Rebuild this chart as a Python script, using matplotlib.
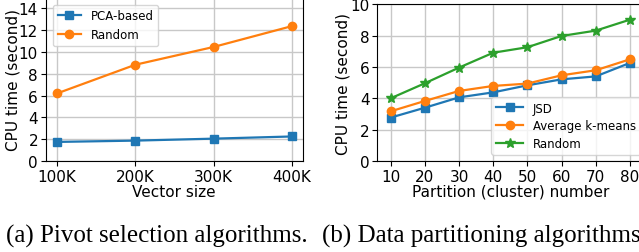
import matplotlib
matplotlib.use('Agg')
import matplotlib.pyplot as plt

# (a) pivot selection
vec_size = [100, 200, 300, 400]
vec_labels = ['100K', '200K', '300K', '400K']
pca_based = [1.75, 1.87, 2.05, 2.25]
random_a = [6.2, 8.83, 10.46, 12.37]

# (b) data partitioning
partitions = [10, 20, 30, 40, 50, 60, 70, 80]
jsd = [2.77, 3.4, 4.06, 4.38, 4.83, 5.21, 5.4, 6.26]
avg_kmeans = [3.17, 3.83, 4.47, 4.79, 4.94, 5.47, 5.79, 6.49]
random_b = [4.0, 4.96, 5.96, 6.91, 7.26, 7.98, 8.32, 9.02]

W, H = 639, 253
fig = plt.figure(figsize=(W / 100, H / 100), dpi=100)


def box(x0, y0, x1, y1):
    return [x0 / W, 1 - y1 / H, (x1 - x0) / W, (y1 - y0) / H]


tick_fs = 11
legend_fs = 8.5
lw = 1.6
ms = 6

ax1 = fig.add_axes(box(45.7, -1.5, 302.7, 162))
ax1.plot(vec_size, pca_based, marker='s', color='#1f77b4', lw=lw, ms=ms, label='PCA-based')
ax1.plot(vec_size, random_a, marker='o', color='#ff7f0e', lw=lw, ms=ms, label='Random')
ax1.set_xlim(85.5, 414)
ax1.set_ylim(0, 15)
ax1.set_xticks(vec_size)
ax1.set_xticklabels(vec_labels)
ax1.set_yticks(range(0, 15, 2))
ax1.set_xlabel('Vector size', fontsize=tick_fs, labelpad=0)
ax1.set_ylabel('CPU time (second)', fontsize=tick_fs, labelpad=-1)
ax1.tick_params(labelsize=tick_fs, pad=2)
ax1.grid(True, color='#c8c8c8', lw=1)
ax1.legend(loc='upper left', fontsize=legend_fs, borderaxespad=0.6)

ax2 = fig.add_axes(box(377.3, 5.3, 643.3, 162))
ax2.plot(partitions, jsd, marker='s', color='#1f77b4', lw=lw, ms=ms, label='JSD')
ax2.plot(partitions, avg_kmeans, marker='o', color='#ff7f0e', lw=lw, ms=ms, label='Average k-means')
ax2.plot(partitions, random_b, marker='*', color='#2ca02c', lw=lw, ms=ms + 1, label='Random')
ax2.set_xlim(6.1, 83.9)
ax2.set_ylim(0, 10)
ax2.set_xticks(partitions)
ax2.set_yticks(range(0, 11, 2))
ax2.set_xlabel('Partition (cluster) number', fontsize=tick_fs, labelpad=0)
ax2.set_ylabel('CPU time (second)', fontsize=tick_fs, labelpad=0)
ax2.tick_params(labelsize=tick_fs, pad=2)
ax2.grid(True, color='#c8c8c8', lw=1)
ax2.legend(loc='lower right', fontsize=legend_fs, borderaxespad=0,
           bbox_to_anchor=(0.99, 0.04), labelspacing=0.4, handlelength=2.3)

cap = dict(fontsize=18, family=['Liberation Serif', 'DejaVu Serif'], va='baseline', ha='left')
fig.text(6 / W, 1 - 243 / H, '(a) Pivot selection algorithms.', **cap)
fig.text(322 / W, 1 - 243 / H, '(b) Data partitioning algorithms.', **cap)

fig.savefig('out.png', dpi=100)
